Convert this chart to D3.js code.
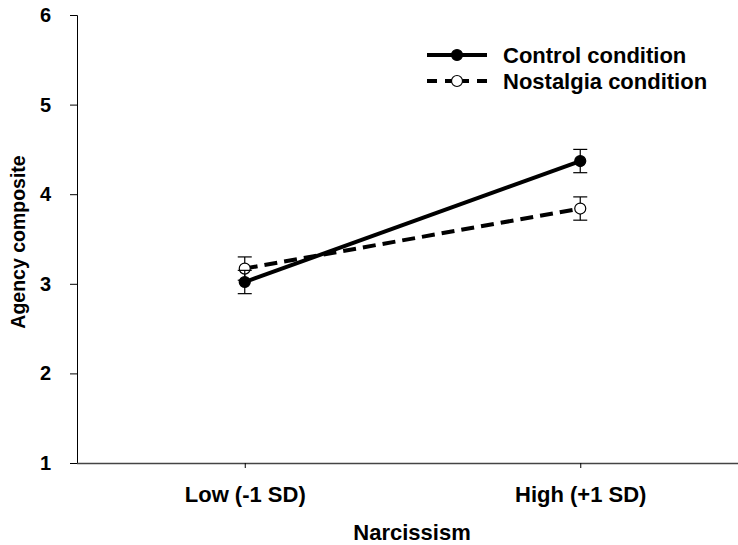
<!DOCTYPE html>
<meta charset="utf-8">
<style>
  body { margin: 0; background: #fff; }
  svg { display: block; font-family: Arial, "Liberation Sans", Helvetica, sans-serif; font-weight: bold; }
</style>
<body>
<script src="https://d3js.org/d3.v7.min.js"></script>
<script>
  'use strict';

  const levels = ["Low (-1 SD)", "High (+1 SD)"];
  const controlMeans = [3.02, 4.37];
  const controlErr = [0.13, 0.13];
  const nostalgiaMeans = [3.17, 3.84];
  const nostalgiaErr = [0.13, 0.13];
  const yTicks = [1, 2, 3, 4, 5, 6];

  const width = 738, height = 545;

  const x = d3.scalePoint().domain(levels).range([77, 748]).padding(0.5);
  const y = d3.scaleLinear().domain([1, 6]).range([463, 15]);

  const svg = d3.select("body").append("svg")
      .attr("width", width)
      .attr("height", height);

  // axes
  const yAxis = svg.append("g")
      .attr("transform", "translate(77,0)")
      .call(d3.axisLeft(y).tickValues(yTicks).tickSize(7).tickPadding(19).tickFormat(d3.format("d")));
  yAxis.attr("font-size", null).attr("font-family", null);
  yAxis.selectAll("text").attr("font-size", 20).attr("fill", "#000");
  yAxis.selectAll("line, path").attr("stroke", "#000");

  svg.append("line")
      .attr("x1", 77).attr("x2", width)
      .attr("y1", 463.5).attr("y2", 463.5)
      .attr("stroke", "#444").attr("stroke-width", 1.5);

  const xAxis = svg.append("g")
      .attr("transform", "translate(0,463)")
      .call(d3.axisBottom(x).tickSize(5).tickPadding(18));
  xAxis.attr("font-size", null).attr("font-family", null);
  xAxis.select(".domain").remove();
  xAxis.selectAll("text").attr("font-size", 22).attr("fill", "#000");
  xAxis.selectAll("line").attr("stroke", "#000");

  svg.append("text")
      .attr("transform", "translate(25,242) rotate(-90)")
      .attr("text-anchor", "middle")
      .attr("font-size", 19.5)
      .text("Agency composite");

  svg.append("text")
      .attr("x", 412).attr("y", 540)
      .attr("text-anchor", "middle")
      .attr("font-size", 22)
      .text("Narcissism");

  const series = [
    {name: "Control condition", means: controlMeans, err: controlErr, dash: null, legendDash: null, fill: "#000"},
    {name: "Nostalgia condition", means: nostalgiaMeans, err: nostalgiaErr, dash: "13,7", legendDash: "10,8,24,8,10", fill: "#fff"}
  ];

  const line = d3.line().x((d, i) => x(levels[i])).y(d => y(d));

  // draw nostalgia first, control on top
  series.slice().reverse().forEach(s => {
    const g = svg.append("g");
    g.append("path")
        .datum(s.means)
        .attr("d", line)
        .attr("fill", "none")
        .attr("stroke", "#000")
        .attr("stroke-width", 4)
        .attr("stroke-dasharray", s.dash);

    s.means.forEach((m, i) => {
      const cx = x(levels[i]);
      const eb = g.append("g").attr("stroke", "#000").attr("stroke-width", 1.2);
      eb.append("line").attr("x1", cx).attr("x2", cx).attr("y1", y(m - s.err[i])).attr("y2", y(m + s.err[i]));
      [m - s.err[i], m + s.err[i]].forEach(v => {
        eb.append("line").attr("x1", cx - 7).attr("x2", cx + 7).attr("y1", y(v)).attr("y2", y(v));
      });
      g.append("circle")
          .attr("cx", cx).attr("cy", y(m)).attr("r", 5.5)
          .attr("fill", s.fill).attr("stroke", "#000").attr("stroke-width", 1.2);
    });
  });

  // legend
  const legend = svg.append("g");
  series.forEach((s, i) => {
    const ly = 55 + i * 26;
    legend.append("line")
        .attr("x1", 427).attr("x2", 487).attr("y1", ly).attr("y2", ly)
        .attr("stroke", "#000").attr("stroke-width", 4)
        .attr("stroke-dasharray", s.legendDash);
    legend.append("circle")
        .attr("cx", 457).attr("cy", ly).attr("r", 5.5)
        .attr("fill", s.fill).attr("stroke", "#000").attr("stroke-width", 1.2);
    legend.append("text")
        .attr("x", 503).attr("y", ly + 8)
        .attr("font-size", 22)
        .text(s.name);
  });
</script>
</body>
